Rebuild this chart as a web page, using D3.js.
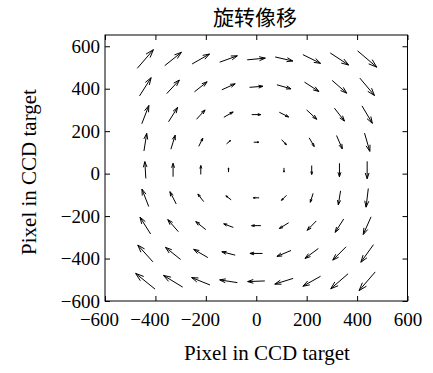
<!DOCTYPE html>
<html>
<head>
<meta charset="utf-8">
<script src="https://cdn.jsdelivr.net/npm/d3@7"></script>
<style>
  body { margin: 0; background: #fff; }
  text { fill: #000; }
</style>
</head>
<body>
<svg id="chart" width="433" height="373"></svg>
<script>
// grid positions (data units)
const gridX = [-440, -330, -220, -110, 0, 110, 220, 330, 440];
const gridY = [540, 409, 278, 148, 17, -114, -245, -376, -507];

// displacement, one row per gridY (top to bottom), one column per gridX
const dispU = [
    [64, 66, 69, 70, 72, 70, 70, 73, 76],
    [46, 50, 50, 53, 53, 56, 57, 58, 58],
    [28, 36, 34, 37, 36, 37, 40, 40, 41],
    [11, 17, 16, 16, 20, 19, 20, 23, 21],
    [-4, 0, 0, 0, 0, 0, 0, 0, 0],
    [-27, -25, -23, -21, -23, -20, -11, -9, -9],
    [-42, -42, -40, -38, -37, -37, -36, -34, -31],
    [-60, -60, -56, -53, -50, -56, -53, -53, -50],
    [-77, -76, -73, -70, -68, -73, -70, -69, -64]
];
const dispV = [
    [88, 63, 47, 30, 8, -19, -41, -57, -77],
    [86, 64, 47, 28, 5, -19, -44, -60, -82],
    [86, 68, 44, 25, 0, -22, -44, -61, -82],
    [83, 66, 39, 16, 0, -24, -41, -63, -86],
    [79, 63, 42, 20, 0, -20, -42, -64, -82],
    [82, 58, 36, 19, 0, -24, -42, -66, -88],
    [79, 57, 38, 17, 0, -27, -44, -63, -83],
    [79, 57, 39, 16, 0, -28, -47, -63, -83],
    [74, 55, 35, 13, -3, -27, -47, -71, -88]
];

const xTicks = [-600, -400, -200, 0, 200, 400, 600];
const yTicks = [-600, -400, -200, 0, 200, 400, 600];

const titleText = "旋转像移";
const xLabel = "Pixel in CCD target";
const yLabel = "Pixel in CCD target";

var svg = d3.select("#chart");
var serif = "'Liberation Serif', 'Times New Roman', serif";

var x = d3.scaleLinear().domain([-600, 600]).range([105, 407.5]);
var y = d3.scaleLinear().domain([-600, 653]).range([301, 35]);

// quiver data
var arrows = [];
gridY.forEach((gy, r) => {
    gridX.forEach((gx, c) => {
        arrows.push({x: gx, y: gy, u: dispU[r][c], v: dispV[r][c]});
    });
});

// arrows are centred on their grid point, matlab style heads
function arrowPath(d) {
    var x0 = x(d.x - d.u / 2), y0 = y(d.y - d.v / 2);
    var x1 = x(d.x + d.u / 2), y1 = y(d.y + d.v / 2);
    var du = x1 - x0, dv = y1 - y0;
    if (Math.abs(du) + Math.abs(dv) < 0.5) return "";
    var alpha = 0.33, beta = 0.33;
    var hx1 = x1 - alpha * (du + beta * dv), hy1 = y1 - alpha * (dv - beta * du);
    var hx2 = x1 - alpha * (du - beta * dv), hy2 = y1 - alpha * (dv + beta * du);
    return "M" + x0 + "," + y0 + "L" + x1 + "," + y1 +
        "M" + hx1 + "," + hy1 + "L" + x1 + "," + y1 + "L" + hx2 + "," + hy2;
}

svg.append("g")
    .selectAll("path")
    .data(arrows)
    .enter().append("path")
    .attr("d", arrowPath)
    .attr("fill", "none")
    .attr("stroke", "#000")
    .attr("stroke-width", 1);

// axes, ticks pointing inward
var xAxis = svg.append("g")
    .attr("transform", "translate(0,301)")
    .call(d3.axisBottom(x).tickValues(xTicks).tickSize(-5).tickPadding(12));
xAxis.selectAll("text")
    .attr("dx", d => d < 0 ? -6 : 0);

var yAxis = svg.append("g")
    .attr("transform", "translate(105,0)")
    .call(d3.axisLeft(y).tickValues(yTicks).tickSize(-5).tickPadding(5));

svg.append("g")
    .attr("transform", "translate(0,35)")
    .call(d3.axisTop(x).tickValues(xTicks).tickSize(-5).tickFormat(""));
svg.append("g")
    .attr("transform", "translate(407.5,0)")
    .call(d3.axisRight(y).tickValues(yTicks).tickSize(-5).tickFormat(""));

svg.selectAll(".domain").remove();
svg.selectAll(".tick line").attr("stroke", "#000");
svg.selectAll(".tick text")
    .style("font-family", serif)
    .style("font-size", "19px")
    .attr("fill", "#000");

svg.append("rect")
    .attr("x", x(-600))
    .attr("y", y(653))
    .attr("width", x(600) - x(-600))
    .attr("height", y(-600) - y(653))
    .attr("fill", "none")
    .attr("stroke", "#000")
    .attr("stroke-width", 1);

// labels
svg.append("text")
    .attr("x", 255)
    .attr("y", 25)
    .attr("text-anchor", "middle")
    .style("font-family", "'Noto Sans CJK SC', sans-serif")
    .style("font-size", "21px")
    .text(titleText);

svg.append("text")
    .attr("x", 267)
    .attr("y", 360)
    .attr("text-anchor", "middle")
    .style("font-family", serif)
    .style("font-size", "21px")
    .text(xLabel);

svg.append("text")
    .attr("transform", "translate(36,172) rotate(-90)")
    .attr("text-anchor", "middle")
    .style("font-family", serif)
    .style("font-size", "21px")
    .text(yLabel);
</script>
</body>
</html>
